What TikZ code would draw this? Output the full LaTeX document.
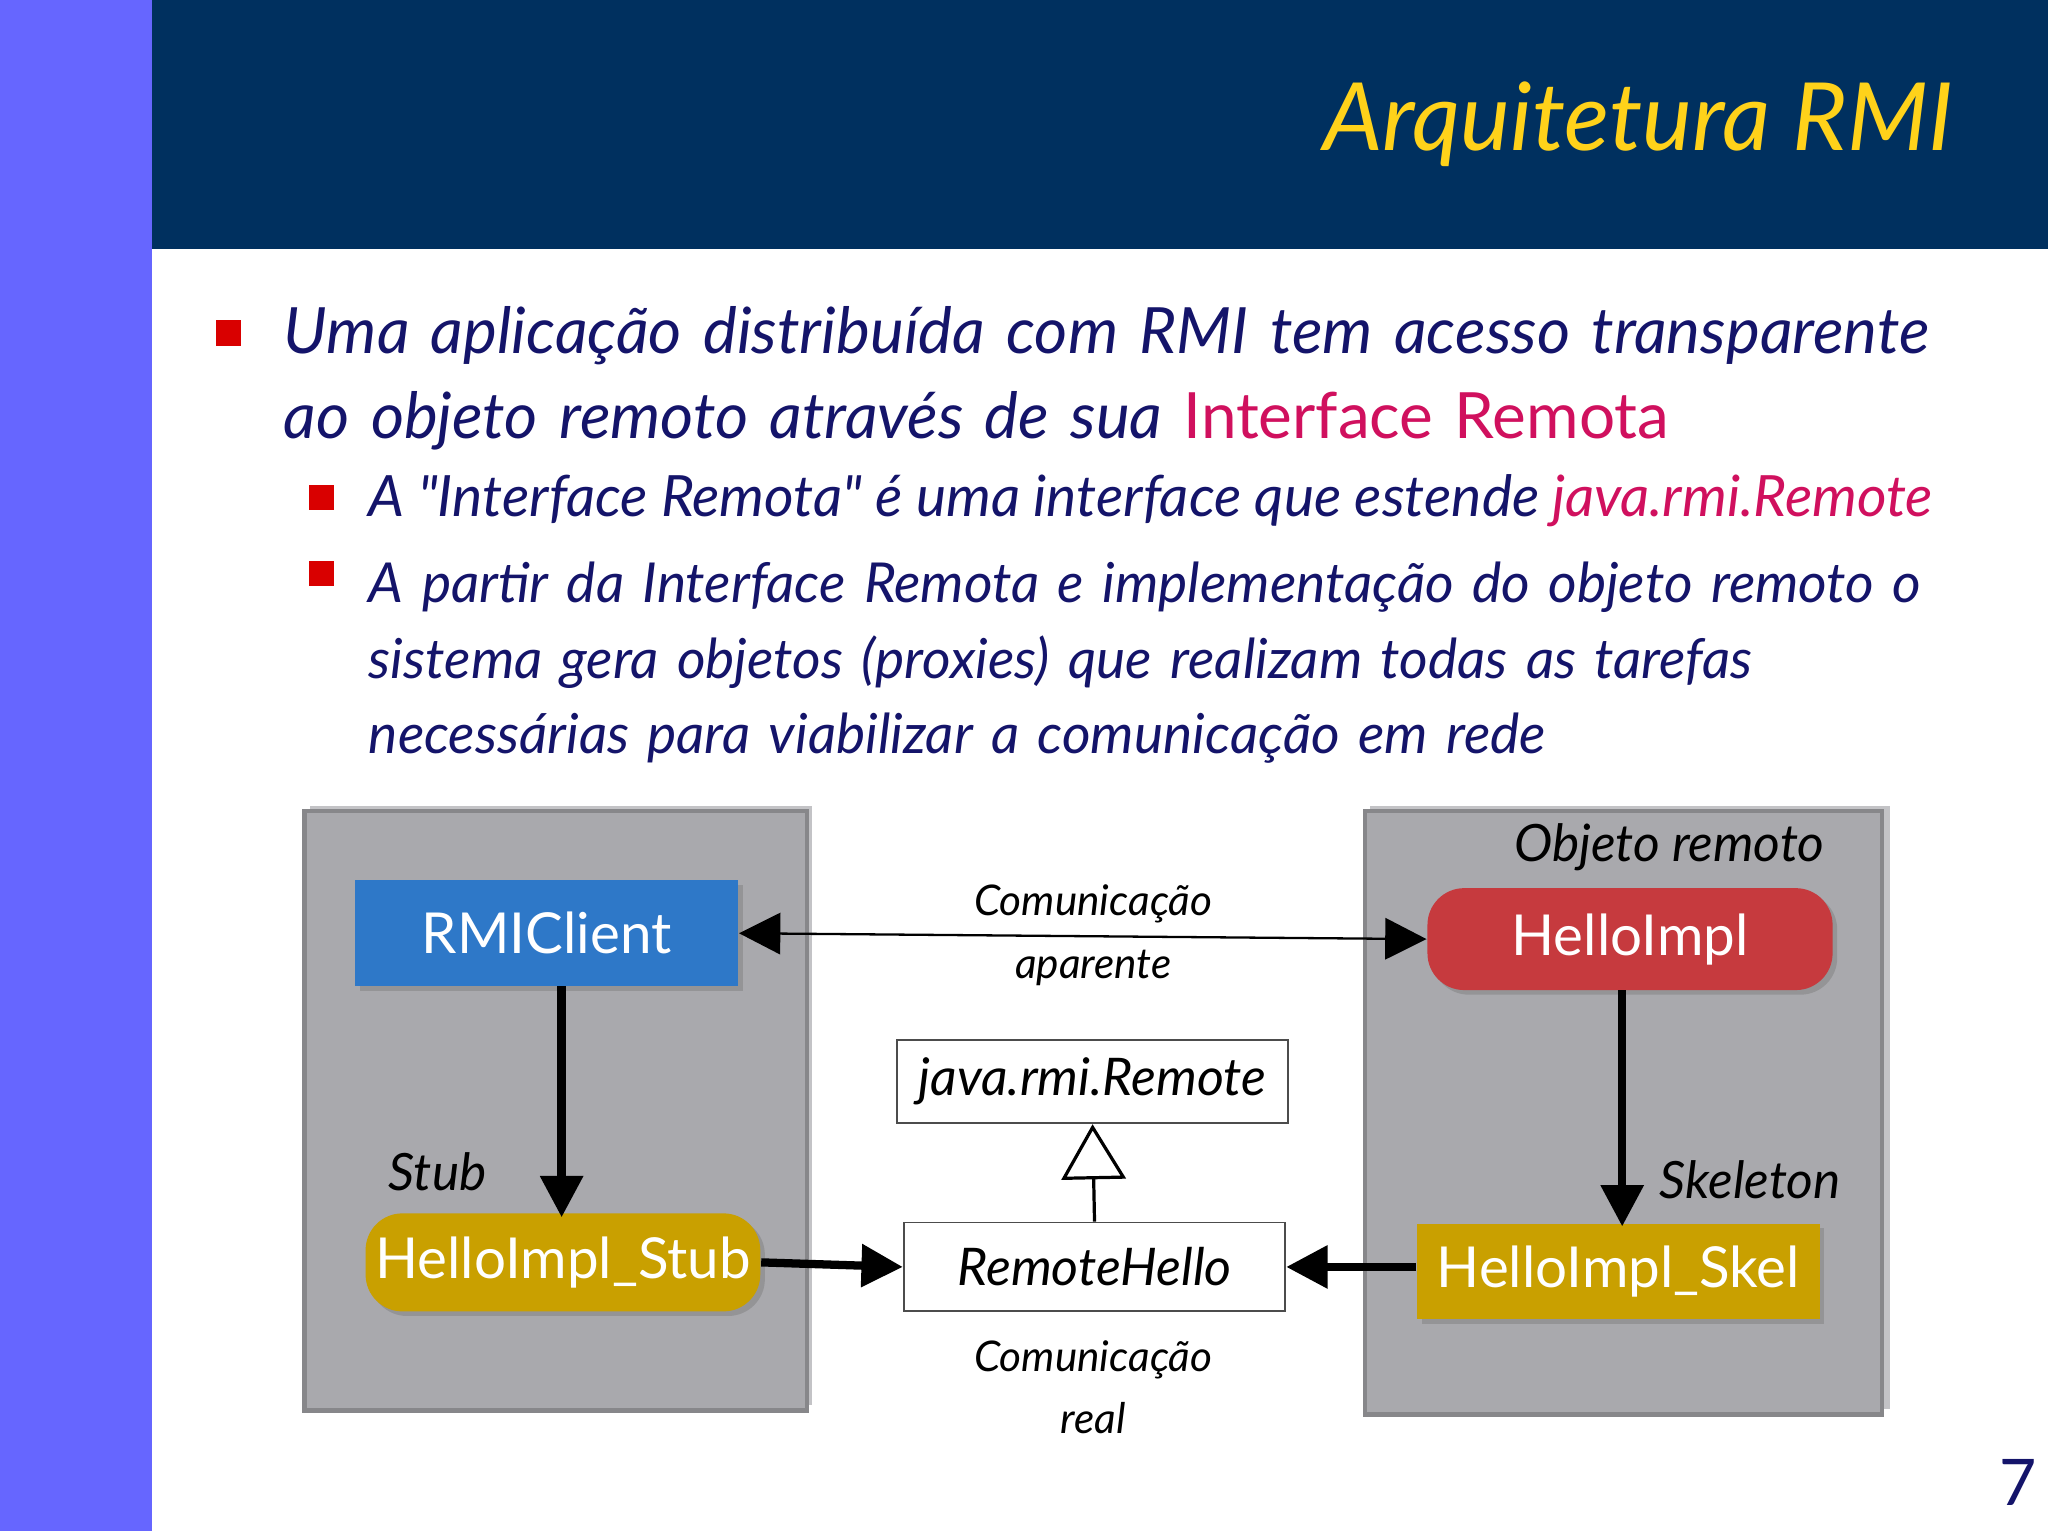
\documentclass[tikz,border=0pt]{standalone}
\usepackage{fontspec}
\setmainfont{Lato}
\newfontfamily\qfont{Lato}[Ligatures=TeXOff]
\usetikzlibrary{arrows.meta,shadows}
\definecolor{navy}{HTML}{00305F}
\definecolor{purp}{HTML}{6666FF}
\definecolor{ttl}{HTML}{FFD21A}
\definecolor{txt}{HTML}{14146A}
\definecolor{mag}{HTML}{D0105E}
\definecolor{gbox}{HTML}{A9A9AD}
\definecolor{cblue}{HTML}{2E78C8}
\definecolor{cred}{HTML}{C63A3E}
\definecolor{cgold}{HTML}{C9A000}
\newcommand{\dq}{{\qfont\itshape"}}
\tikzset{
 panel/.style={fill=gbox,draw=gbox!80!black,line width=1pt},
 comp/.style={text=white,font=\fontsize{12.3}{15}\selectfont,inner sep=0pt},
 wbox/.style={draw=black!70,fill=white,inner sep=0pt,font=\itshape\fontsize{11.3}{14}\selectfont},
 lab/.style={font=\itshape\fontsize{9.2}{13.6}\selectfont,align=center},
 big/.style={-{Triangle[length=9pt,width=9pt]},line width=1.8pt},
 blt/.style={fill=red!85!black,minimum size=5.5pt,inner sep=0pt}
}
\begin{document}
\begin{tikzpicture}[x=0.01cm,y=-0.01cm]
\useasboundingbox (0,0) rectangle (1568,1172);
\fill[white] (0,0) rectangle (1568,1172);
\fill[purp] (0,0) rectangle (116,1172);
\fill[navy] (116,0) rectangle (1568,191);
\node[anchor=east,text=ttl,font=\itshape\fontsize{20.5}{26}\selectfont] (title) at (1508,95) {Arquitetura RMI};
\node[blt] (b1) at (175,255) {};
\node[anchor=west,text=txt,font=\itshape\fontsize{13.9}{18.5}\selectfont,align=left,text width=14cm] (t1) at (205,290) {Uma aplicação distribuída com RMI tem acesso transparente\\ao objeto remoto através de sua \textcolor{mag}{\upshape Interface Remota}};
\node[blt] (b2) at (246,381) {};
\node[blt] (b3) at (246,439) {};
\node[anchor=west,text=txt,font=\itshape\fontsize{12.4}{16.5}\selectfont] (t2) at (270,383) {A \dq Interface Remota\dq{} é uma interface que estende \textcolor{mag}{java.rmi.Remote}};
\node[anchor=north west,text=txt,font=\itshape\fontsize{12}{16.4}\selectfont,align=left,text width=13cm] (t3) at (270,418) {A partir da Interface Remota e implementação do objeto remoto o\\sistema gera objetos (proxies) que realizam todas as tarefas\\necessárias para viabilizar a comunicação em rede};
% panels
\fill[gbox!70!white] (237,617) rectangle (622,1076);
\fill[panel] (233,621) rectangle (618,1080);
\fill[gbox!70!white] (1049,617) rectangle (1447,1079);
\fill[panel] (1045,621) rectangle (1441,1083);
\node[font=\itshape\fontsize{11.2}{15}\selectfont] (obj) at (1278,649) {Objeto remoto};
\node[font=\itshape\fontsize{11.2}{15}\selectfont] (stublab) at (335,897) {Stub};
\node[font=\itshape\fontsize{11.2}{15}\selectfont] (skellab) at (1340,903) {Skeleton};
% components
\node[comp,fill=cblue,minimum width=2.93cm,minimum height=0.81cm,drop shadow={shadow xshift=1pt,shadow yshift=-1pt}] (client) at (418.5,714.5) {RMIClient};
\node[comp,fill=cred,rounded corners=8pt,minimum width=3.1cm,minimum height=0.78cm,drop shadow={shadow xshift=1pt,shadow yshift=-1pt}] (impl) at (1248,719) {HelloImpl};
\node[comp,fill=cgold,rounded corners=8pt,minimum width=3.02cm,minimum height=0.75cm,drop shadow={shadow xshift=1pt,shadow yshift=-1pt}] (stub) at (431,966.5) {HelloImpl\_Stub};
\node[comp,fill=cgold,minimum width=3.08cm,minimum height=0.73cm,drop shadow={shadow xshift=1pt,shadow yshift=-1pt}] (skel) at (1239,973.5) {HelloImpl\_Skel};
\node[wbox,minimum width=2.99cm,minimum height=0.64cm] (remote) at (836.5,828) {java.rmi.Remote};
\node[wbox,minimum width=2.92cm,minimum height=0.68cm] (rh) at (838,970) {RemoteHello};
\node[lab] (l1) at (837,716) {Comunicação\\aparente};
\node[lab] (l2) at (837,1062) {Comunicação\\real};
% connectors
\draw[{Triangle[length=9pt,width=9pt]}-{Triangle[length=9pt,width=9pt]},line width=0.5pt] (client.east) -- (impl.west);
\draw[big] (430,755) -- (430,932);
\draw[big] (1242,758) -- (1242,939);
\draw[big] (stub.east) -- (rh.west);
\draw[big] (skel.west|-rh) -- (rh.east);
\draw[-{Triangle[open,length=12pt,width=14pt]},line width=0.7pt] (rh.north) -- (remote.south);
\node[text=txt,font=\fontsize{14}{16}\selectfont] (pg) at (1545,1135) {7};
\end{tikzpicture}
\end{document}
